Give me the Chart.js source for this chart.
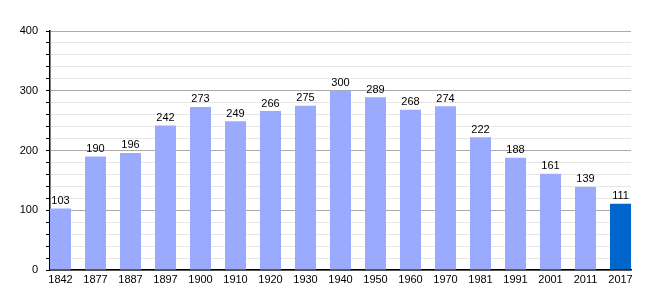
<!DOCTYPE html>
<html>
<head>
<meta charset="utf-8">
<script src="https://cdn.jsdelivr.net/npm/chart.js@4"></script>
<style>
  html, body { margin: 0; padding: 0; background: #fff; }
  #wrap { width: 660px; height: 300px; }
</style>
</head>
<body>
<div id="wrap"><canvas id="pop"></canvas></div>
<script>
// années et population
var annees = ['1842', '1877', '1887', '1897', '1900', '1910', '1920', '1930', '1940',
              '1950', '1960', '1970', '1981', '1991', '2001', '2011', '2017'];
var population = [103, 190, 196, 242, 273, 249, 266, 275, 300, 289, 268, 274, 222, 188, 161, 139, 111];
var yTicks = [0, 100, 200, 300, 400];

var couleurs = annees.map(function (a, i) {
    return i === annees.length - 1 ? '#0066cc' : '#99aaff';
});

// valeurs au-dessus des barres
var etiquettes = {
    id: 'etiquettes',
    afterDatasetsDraw: function (chart) {
        var ctx = chart.ctx;
        var meta = chart.getDatasetMeta(0);
        ctx.save();
        ctx.font = '11px "Liberation Sans", Arial, sans-serif';
        ctx.fillStyle = '#000';
        ctx.textAlign = 'center';
        ctx.textBaseline = 'bottom';
        meta.data.forEach(function (bar, i) {
            ctx.fillText(population[i], bar.x, bar.y - 2);
        });
        ctx.restore();
    }
};

var ctx = document.getElementById('pop').getContext('2d');
var graphique = new Chart(ctx, {
    type: 'bar',
    data: {
        datasets: [{
            data: population.map(function (v, i) { return { x: i, y: v }; }),
            backgroundColor: couleurs,
            barPercentage: 0.6,
            categoryPercentage: 1
        }]
    },
    options: {
        responsive: true,
        maintainAspectRatio: false,
        animation: false,
        layout: { padding: { top: 31, right: 29, left: 0, bottom: 0 } },
        plugins: { legend: { display: false }, tooltip: { enabled: false } },
        scales: {
            x: {
                type: 'linear',
                offset: false,
                min: -0.3,
                max: annees.length - 1 + 0.3,
                afterBuildTicks: function (scale) {
                    scale.ticks = annees.map(function (a, i) { return { value: i }; });
                },
                afterFit: function (scale) { scale.height = 30; },
                grid: { display: false, drawTicks: false, offset: false },
                border: { display: true, color: '#000', width: 1.5 },
                ticks: {
                    autoSkip: false,
                    maxRotation: 0,
                    padding: 3,
                    color: '#000',
                    font: { family: '"Liberation Sans", Arial, sans-serif', size: 11 },
                    callback: function (v) { return annees[v]; }
                }
            },
            y: {
                min: 0,
                max: 400,
                ticks: {
                    stepSize: 20,
                    maxTicksLimit: 30,
                    autoSkip: false,
                    padding: 8,
                    color: '#000',
                    font: { family: '"Liberation Sans", Arial, sans-serif', size: 11 },
                    callback: function (v) { return yTicks.indexOf(v) >= 0 ? v : ''; }
                },
                afterFit: function (scale) { scale.width = 50; },
                grid: {
                    color: function (c) { return c.tick && c.tick.value % 100 === 0 ? '#aaaaaa' : '#e6e6e6'; },
                    tickColor: '#000',
                    tickLength: 4
                },
                border: { display: true, color: '#000', width: 1.5 }
            }
        }
    },
    plugins: [etiquettes]
});
</script>
</body>
</html>
